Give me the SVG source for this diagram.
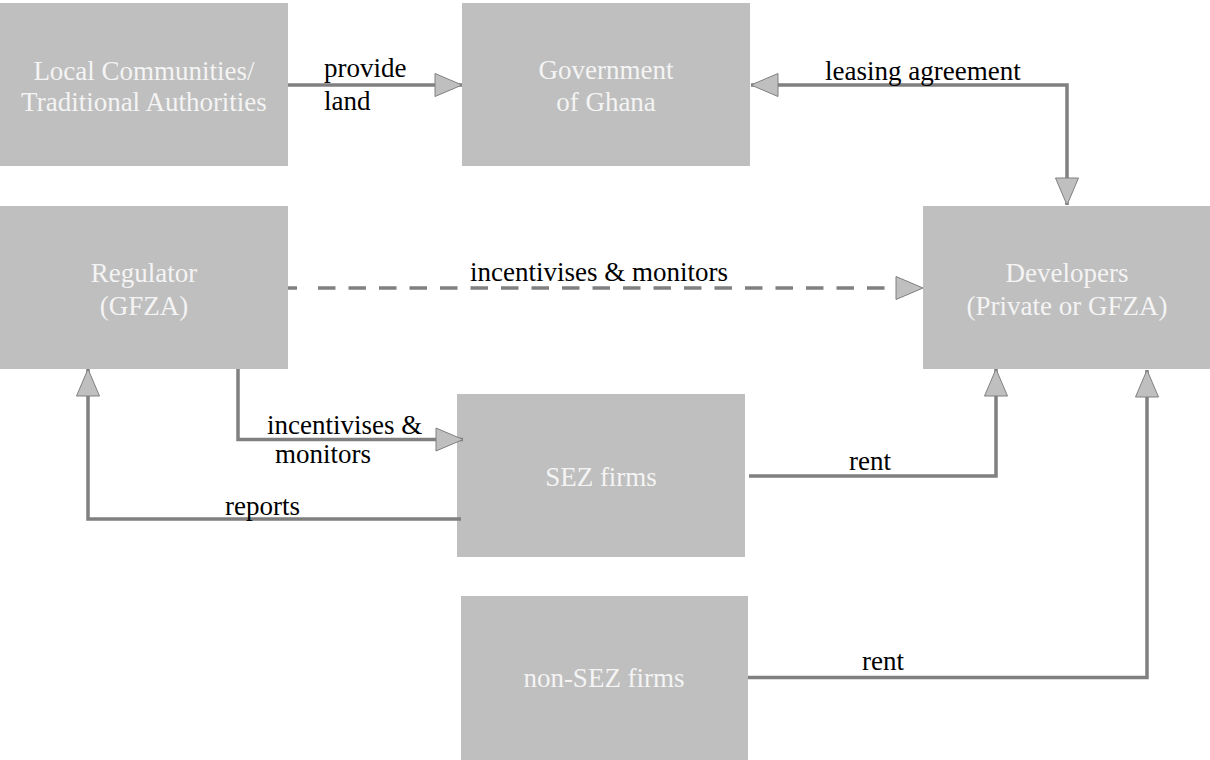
<svg xmlns="http://www.w3.org/2000/svg" width="1210" height="760" viewBox="0 0 1210 760">
<style>
.box{fill:#bfbfbf;}
.nt{font-family:'Liberation Serif',Tinos,'Times New Roman',Times,'DejaVu Serif',serif;font-size:27px;fill:#f4f4f4;text-anchor:middle;}
.lbl{font-family:'Liberation Serif',Tinos,'Times New Roman',Times,'DejaVu Serif',serif;font-size:27px;fill:#000;}
.c{fill:none;stroke:#808080;stroke-width:3.5;}
</style>
<defs>
<marker id="ah" markerUnits="userSpaceOnUse" markerWidth="30" markerHeight="26" refX="27" refY="11.5" orient="auto-start-reverse" overflow="visible">
<polygon points="0,0 27,11.5 0,23" fill="#bfbfbf" stroke="#808080" stroke-width="1"/>
</marker>
</defs>
<rect width="1210" height="760" fill="#fff"/>
<g id="local">
<rect class="box" x="0" y="3" width="288" height="163"/>
<text class="nt" x="144" y="80">Local Communities/</text>
<text class="nt" x="144" y="111">Traditional Authorities</text>
</g>
<g id="government">
<rect class="box" x="462" y="3" width="288" height="163"/>
<text class="nt" x="606" y="79">Government</text>
<text class="nt" x="606" y="111">of Ghana</text>
</g>
<g id="regulator">
<rect class="box" x="0" y="206" width="288" height="163"/>
<text class="nt" x="144" y="282">Regulator</text>
<text class="nt" x="144" y="315">(GFZA)</text>
</g>
<g id="developers">
<rect class="box" x="923" y="206" width="288" height="163"/>
<text class="nt" x="1067" y="282">Developers</text>
<text class="nt" x="1067" y="315">(Private or GFZA)</text>
</g>
<g id="sez">
<rect class="box" x="457" y="394" width="288" height="163"/>
<text class="nt" x="601" y="486">SEZ firms</text>
</g>
<g id="nonsez">
<rect class="box" x="461" y="596" width="287" height="164"/>
<text class="nt" x="604" y="687">non-SEZ firms</text>
</g>
<g id="connectors">
<path class="c" d="M288 85 H462" marker-end="url(#ah)"/>
<path class="c" d="M751 85 H1067 V205" marker-start="url(#ah)" marker-end="url(#ah)"/>
<path class="c" d="M288 288 H923" stroke-dasharray="9 21 17.5 13 17.5 13 17.5 13 17.5 13 17.5 13 17.5 13 17.5 13 17.5 13 17.5 13 17.5 13 17.5 13 17.5 13 17.5 13 17.5 13 17.5 13 17.5 13 17.5 13 17.5 13 17.5 13 17.5 13 17.5 40" marker-end="url(#ah)"/>
<path class="c" d="M238 369 V439.5 H463" marker-end="url(#ah)"/>
<path class="c" d="M461 519 H88 V369" marker-end="url(#ah)"/>
<path class="c" d="M749 476 H996 V369" marker-end="url(#ah)"/>
<path class="c" d="M748 677.5 H1147 V370" marker-end="url(#ah)"/>
<text class="lbl" x="324" y="77">provide</text>
<text class="lbl" x="324" y="110">land</text>
<text class="lbl" x="825" y="80">leasing agreement</text>
<text class="lbl" x="599" y="281" text-anchor="middle">incentivises &amp; monitors</text>
<text class="lbl" x="267" y="434">incentivises &amp;</text>
<text class="lbl" x="275" y="463">monitors</text>
<text class="lbl" x="225" y="515">reports</text>
<text class="lbl" x="870" y="470" text-anchor="middle">rent</text>
<text class="lbl" x="883" y="670" text-anchor="middle">rent</text>
</g>
</svg>
